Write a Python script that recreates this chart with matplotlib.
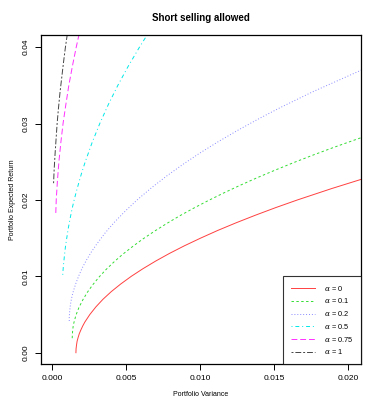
import matplotlib
matplotlib.use("Agg")
import matplotlib.pyplot as plt

plt.rcParams['font.family'] = ['Liberation Sans', 'DejaVu Sans']
plt.rcParams['mathtext.fontset'] = 'dejavuserif'

# frontier points: (variance, expected return)
var_a0 = [0.00162, 0.00163, 0.00166, 0.00170, 0.00177, 0.00185, 0.00196, 0.00208, 0.00222,
          0.00256, 0.00297, 0.00345, 0.00401, 0.00465, 0.00536, 0.00615, 0.00701, 0.00794,
          0.00895, 0.01004, 0.01119, 0.01243, 0.01374, 0.01512, 0.01658, 0.01891, 0.02106]
ret_a0 = [0.0, 0.0005, 0.001, 0.0015, 0.002, 0.0025, 0.003, 0.0035, 0.004,
          0.005, 0.006, 0.007, 0.008, 0.009, 0.010, 0.011, 0.012, 0.013,
          0.014, 0.015, 0.016, 0.017, 0.018, 0.019, 0.020, 0.0215, 0.0228]

var_a01 = [0.00137, 0.00138, 0.00140, 0.00143, 0.00148, 0.00155, 0.00162, 0.00172, 0.00182,
           0.00208, 0.00239, 0.00276, 0.00318, 0.00366, 0.00420, 0.00479, 0.00545, 0.00615,
           0.00692, 0.00774, 0.00861, 0.00955, 0.01054, 0.01159, 0.01269, 0.01385, 0.01507,
           0.01634, 0.01767, 0.01906, 0.02139]
ret_a01 = [0.0019, 0.0024, 0.0029, 0.0034, 0.0039, 0.0044, 0.0049, 0.0054, 0.0059,
           0.0069, 0.0079, 0.0089, 0.0099, 0.0109, 0.0119, 0.0129, 0.0139, 0.0149,
           0.0159, 0.0169, 0.0179, 0.0189, 0.0199, 0.0209, 0.0219, 0.0229, 0.0239,
           0.0249, 0.0259, 0.0269, 0.0285]

var_a02 = [0.00117, 0.00117, 0.00119, 0.00121, 0.00124, 0.00128, 0.00133, 0.00139, 0.00146,
           0.00163, 0.00183, 0.00206, 0.00234, 0.00265, 0.00300, 0.00358, 0.00425, 0.00501,
           0.00584, 0.00676, 0.00776, 0.00884, 0.01000, 0.01125, 0.01258, 0.01399, 0.01548,
           0.01760, 0.02165]
ret_a02 = [0.00415, 0.00465, 0.00515, 0.00565, 0.00615, 0.00665, 0.00715, 0.00765, 0.00815,
           0.00915, 0.01015, 0.01115, 0.01215, 0.01315, 0.01415, 0.01565, 0.01715, 0.01865,
           0.02015, 0.02165, 0.02315, 0.02465, 0.02615, 0.02765, 0.02915, 0.03065, 0.03215,
           0.03415, 0.03765]

var_a05 = [0.00073, 0.00075, 0.00078, 0.00086, 0.00092, 0.00100, 0.00110, 0.00122, 0.00135,
           0.00150, 0.00167, 0.00185, 0.00204, 0.00225, 0.00271, 0.00323, 0.00381, 0.00445,
           0.00515, 0.00591, 0.00656]
ret_a05 = [0.0102, 0.0108, 0.0115, 0.013, 0.014, 0.015, 0.01625, 0.0175, 0.01875,
           0.020, 0.02125, 0.0225, 0.02375, 0.025, 0.0275, 0.030, 0.0325, 0.035,
           0.0375, 0.040, 0.042]

var_a075 = [0.00026, 0.00029, 0.00037, 0.00047, 0.00060, 0.00075, 0.00094, 0.00114,
            0.00138, 0.00164, 0.00187]
ret_a075 = [0.0183, 0.020, 0.0225, 0.025, 0.0275, 0.030, 0.0325, 0.035,
            0.0375, 0.040, 0.042]

var_a1 = [0.00011, 0.00015, 0.00021, 0.00028, 0.00035, 0.00044, 0.00054, 0.00066,
          0.00078, 0.00091, 0.00106]
ret_a1 = [0.0222, 0.024, 0.026, 0.028, 0.030, 0.032, 0.034, 0.036,
          0.038, 0.040, 0.042]

alphas = ['0', '0.1', '0.2', '0.5', '0.75', '1']
x_ticks = [0.000, 0.005, 0.010, 0.015, 0.020]
y_ticks = [0.00, 0.01, 0.02, 0.03, 0.04]

series = [(var_a0, ret_a0), (var_a01, ret_a01), (var_a02, ret_a02),
          (var_a05, ret_a05), (var_a075, ret_a075), (var_a1, ret_a1)]
colors = ['#ff4040', '#33dd33', '#8a8aff', '#00e8e8', '#ff30ff', '#444444']
dashes = [None, (2.5, 2.5), (1, 2), (1, 3, 4, 3), (6, 3), (2, 2, 6, 2)]

fig = plt.figure(figsize=(3.82, 4.09), dpi=100)
ax = fig.add_axes([0.1073, 0.1093, 0.8377, 0.806])

for (v, r), c, d, a in zip(series, colors, dashes, alphas):
    line, = ax.plot(v, r, color=c, lw=0.7, label=r'$\alpha$ = ' + a)
    if d is not None:
        line.set_dashes(d)

ax.set_xlim(-0.00074, 0.02088)
ax.set_ylim(-0.00152, 0.04165)
ax.set_xticks(x_ticks)
ax.set_xticklabels(['%.3f' % t for t in x_ticks])
ax.set_yticks(y_ticks)
ax.set_yticklabels(['%.2f' % t for t in y_ticks], rotation=90, va='center')
ax.tick_params(direction='out', length=4, width=0.7, labelsize=6, pad=4)
for s in ax.spines.values():
    s.set_linewidth(0.9)

ax.set_xlabel('Portfolio Variance', fontsize=5, labelpad=6)
ax.set_ylabel('Portfolio Expected Return', fontsize=5, labelpad=5)
ax.set_title('Short selling allowed', fontsize=7, fontweight='bold', pad=10)

leg = ax.legend(loc='lower right', fontsize=5.3, frameon=True, fancybox=False,
                borderaxespad=0, handlelength=3.2, labelspacing=0.5,
                borderpad=1.1, handletextpad=1.2)
leg.get_frame().set_edgecolor('black')
leg.get_frame().set_linewidth(0.8)

fig.savefig('out.png', dpi=100)
